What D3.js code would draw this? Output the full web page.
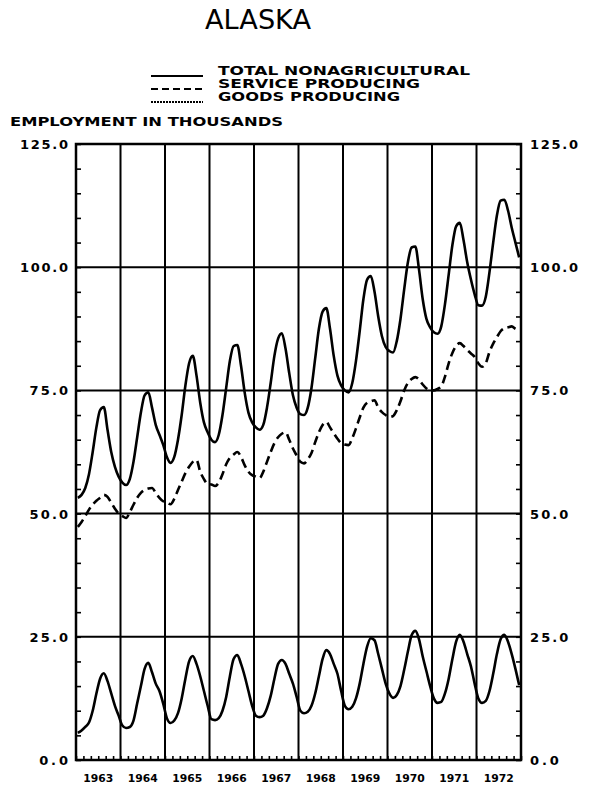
<!DOCTYPE html>
<html>
<head>
<meta charset="utf-8">
<script src="https://cdn.jsdelivr.net/npm/d3@7"></script>
<style>
body { margin: 0; background: #fff; }
text { font-family: "DejaVu Sans", sans-serif; fill: #000; }
</style>
</head>
<body>
<script>
// employment in thousands, monthly jan 1963 .. dec 1972
var years = ["1963", "1964", "1965", "1966", "1967", "1968", "1969", "1970", "1971", "1972"];
var yTicks = [0, 25, 50, 75, 100, 125];
var yLabels = ["0.0", "25.0", "50.0", "75.0", "100.0", "125.0"];
var legendNames = ["TOTAL NONAGRICULTURAL", "SERVICE PRODUCING", "GOODS PRODUCING"];

var total = [
  53.2, 53.8, 55.2, 58, 62.5, 67.5, 71, 71.6, 67, 62.5, 59.5, 57.5,
  56.3, 55.8, 57, 60.5, 65.5, 70.5, 74, 74.6, 71.5, 68, 66, 64,
  61.5, 60.3, 61.5, 65, 70, 76, 80.5, 82, 78, 72.5, 68.5, 66.5,
  65, 64.5, 66, 70, 75.5, 81, 84, 84.2, 80, 74.5, 70.5, 68.5,
  67.5, 67, 68, 71.5, 76.5, 82, 85.5, 86.6, 83.5, 78.5, 74, 71.5,
  70.2, 70, 71.5, 75.5, 81.5, 87.5, 91, 91.7, 87.5, 82, 78, 76,
  75, 74.6, 76.5, 81, 87, 93.5, 97.5, 98.2, 95, 90, 86, 83.8,
  83, 82.7, 85, 89.5, 95.5, 101, 104, 104.2, 99.5, 93.5, 89.5, 87.8,
  86.8, 86.5, 88, 92.5, 98.5, 104.5, 108.3, 109, 105.5, 101, 97.5, 94.5,
  92.3, 92.2, 94, 99, 105, 110.5, 113.5, 113.7, 111.5, 108, 105, 102
];
var service = [
  47.3, 48.3, 49.5, 50.8, 51.8, 52.6, 53.2, 53.8, 53.4, 52.2, 51, 50,
  49.5, 49.1, 50.3, 51.8, 53.2, 54.2, 54.8, 55.1, 55.2, 54.2, 53.2, 52.5,
  52.2, 51.9, 53, 54.8, 56.5, 58.2, 59.5, 60.5, 60.9, 58.5, 57, 56,
  55.9, 55.6, 56.3, 58, 60, 61.3, 62, 62.5, 61.5, 59.8, 58.5, 57.8,
  57.5, 57.2, 58.5, 60.5, 62.5, 64.3, 65.5, 66.2, 66.5, 65, 63.2, 61.8,
  60.5, 60.2, 61, 62.3, 64.5, 66.5, 68, 68.6, 67.5, 66.3, 65.2, 64.3,
  64, 63.9, 65.3, 67.3, 69.5, 71.5, 72.5, 72.8, 73, 71.5, 70.6, 70,
  69.6, 69.8, 71, 72.8, 75, 76.5, 77.3, 77.7, 77.2, 76.2, 75.4, 75,
  75, 75.3, 75.8, 77.8, 80.5, 82.6, 84, 84.6, 84, 83.2, 82.5, 81.8,
  80.5, 79.8, 80.5, 82.8, 84.5, 85.8, 87, 87.6, 87.8, 88, 87.5, 87.2
];
var goods = [
  5.5, 6, 6.7, 7.6, 10, 13.5, 16.5, 17.6, 16, 13.5, 11, 9,
  7, 6.5, 6.7, 8, 11.5, 15, 18.5, 19.7, 17.8, 15.5, 14, 11.5,
  8.5, 7.5, 8, 9.5, 12.5, 16.5, 20, 21.1, 19.5, 17, 14, 11,
  8.3, 8.1, 8.5, 10, 12.8, 17, 20.5, 21.3, 19.5, 17, 14, 11,
  9, 8.7, 9, 10.5, 13, 16.5, 19.5, 20.3, 19.5, 17.5, 15.5, 12.8,
  10, 9.5, 9.8, 11, 13.5, 17, 20.5, 22.3, 21.5, 19.5, 17.5, 14,
  11, 10.3, 10.8, 12.5, 15.5, 19.5, 23, 24.7, 24.3, 21.5, 18.5, 15.5,
  13.5, 12.6, 13.2, 15, 18.3, 22, 25.3, 26.2, 24.5, 21, 18, 15,
  12.5, 11.6, 11.8, 13.5, 16.5, 20.5, 24, 25.4, 24, 21.5, 19, 15.5,
  12.5, 11.6, 12, 14, 17.5, 21.5, 24.5, 25.4, 24, 21.5, 18.5, 15.2
];

var svg = d3.select("body").append("svg").attr("width", 602).attr("height", 789);

var x = d3.scaleLinear().domain([0, 120]).range([76, 521]);
var y = d3.scaleLinear().domain([0, 125]).range([760, 144]);

// title + legend
svg.append("text").attr("x", 205).attr("y", 29).attr("font-size", 26)
  .attr("textLength", 106).attr("lengthAdjust", "spacingAndGlyphs").text("ALASKA");

var legendDash = [null, "7,4", "2,1"];
var legendW = [252, 202, 182];
legendNames.forEach(function (name, i) {
  var ly = 75 + i * 13;
  svg.append("line").attr("x1", 151).attr("x2", 203).attr("y1", ly + 1).attr("y2", ly + 1)
    .attr("stroke", "#000").attr("stroke-width", 2).attr("stroke-dasharray", legendDash[i]);
  svg.append("text").attr("x", 218).attr("y", ly).attr("font-size", 12).attr("font-weight", "bold")
    .attr("textLength", legendW[i]).attr("lengthAdjust", "spacingAndGlyphs").text(name);
});

svg.append("text").attr("x", 10).attr("y", 126).attr("font-size", 12).attr("font-weight", "bold")
  .attr("textLength", 273).attr("lengthAdjust", "spacingAndGlyphs").text("EMPLOYMENT IN THOUSANDS");

// grid
var grid = svg.append("g").attr("stroke", "#000").attr("stroke-width", 2);
grid.selectAll(".h").data([25, 50, 75, 100]).enter().append("line")
  .attr("x1", x(0)).attr("x2", x(120)).attr("y1", function (d) { return y(d); }).attr("y2", function (d) { return y(d); });
grid.selectAll(".v").data(d3.range(1, 10)).enter().append("line")
  .attr("y1", y(0)).attr("y2", y(125)).attr("x1", function (d) { return x(d * 12); }).attr("x2", function (d) { return x(d * 12); });

// minor ticks
var minor = d3.range(0, 126, 5);
svg.append("g").attr("transform", "translate(" + x(0) + ",0)")
  .call(d3.axisLeft(y).tickValues(minor).tickSize(-5).tickFormat(""));
svg.append("g").attr("transform", "translate(" + x(120) + ",0)")
  .call(d3.axisRight(y).tickValues(minor).tickSize(-5).tickFormat(""));
svg.append("g").attr("transform", "translate(0," + y(0) + ")")
  .call(d3.axisBottom(x).tickValues(d3.range(0, 121, 2)).tickSize(-4).tickFormat(""));
svg.selectAll(".domain").remove();
svg.selectAll(".tick line").attr("stroke-width", 1.6);

// frame
svg.append("rect").attr("x", x(0)).attr("y", y(125)).attr("width", x(120) - x(0)).attr("height", y(0) - y(125))
  .attr("fill", "none").attr("stroke", "#000").attr("stroke-width", 2.5);

// tick labels
var lab = svg.append("g").attr("font-size", 13).attr("font-weight", "bold");
lab.selectAll(".l").data(yTicks).enter().append("text")
  .attr("x", 68).attr("y", function (d) { return y(d) + 5; }).attr("text-anchor", "end")
  .attr("textLength", function (d, i) { return yLabels[i].length * 9.6; }).attr("lengthAdjust", "spacing")
  .text(function (d, i) { return yLabels[i]; });
lab.selectAll(".r").data(yTicks).enter().append("text")
  .attr("x", 530).attr("y", function (d) { return y(d) + 5; })
  .attr("textLength", function (d, i) { return yLabels[i].length * 9.6; }).attr("lengthAdjust", "spacing")
  .text(function (d, i) { return yLabels[i]; });

svg.append("g").attr("font-size", 10).attr("font-weight", "bold")
  .selectAll("text").data(years).enter().append("text")
  .attr("x", function (d, i) { return x(i * 12 + 6) - 15; }).attr("y", 782)
  .attr("textLength", 30).attr("lengthAdjust", "spacingAndGlyphs")
  .text(function (d) { return d; });

// series
var line = d3.line().x(function (d, i) { return x(i + 0.5); }).y(function (d) { return y(d); }).curve(d3.curveMonotoneX);
svg.append("path").datum(total).attr("d", line).attr("fill", "none").attr("stroke", "#000").attr("stroke-width", 2.6);
svg.append("path").datum(service).attr("d", line).attr("fill", "none").attr("stroke", "#000").attr("stroke-width", 2.6)
  .attr("stroke-dasharray", "9,5");
svg.append("path").datum(goods).attr("d", line).attr("fill", "none").attr("stroke", "#000").attr("stroke-width", 2.6);
</script>
</body>
</html>
